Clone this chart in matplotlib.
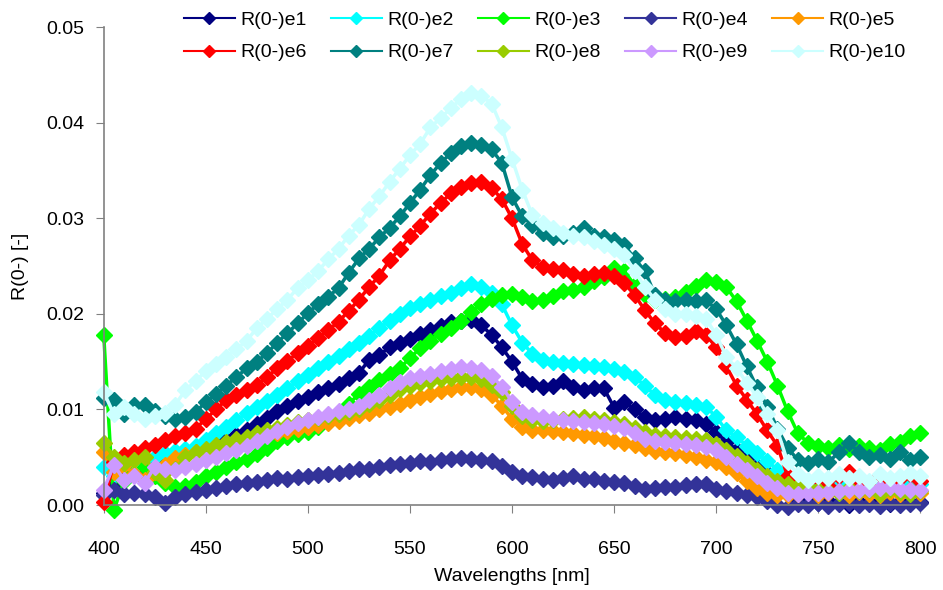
import numpy as np
import matplotlib
matplotlib.use("Agg")
import matplotlib.pyplot as plt
from matplotlib.lines import Line2D

plt.rcParams['font.family'] = ['Liberation Sans', 'DejaVu Sans']
plt.rcParams['font.size'] = 14

wavelengths = np.arange(400, 801, 5)

e1 = [0.0013, 0.0020, 0.0028, 0.0035, 0.0038, 0.0042, 0.0046, 0.0050, 0.0053, 0.0058,
      0.0063, 0.0065, 0.0068, 0.0073, 0.0078, 0.0085, 0.0091, 0.0098, 0.0104, 0.0109,
      0.0113, 0.0118, 0.0122, 0.0127, 0.0133, 0.0138, 0.0152, 0.0157, 0.0165, 0.0170,
      0.0174, 0.0179, 0.0183, 0.0187, 0.0191, 0.0193, 0.0194, 0.0188, 0.0178, 0.0165,
      0.0150, 0.0132, 0.0127, 0.0123, 0.0125, 0.0130, 0.0124, 0.0120, 0.0122, 0.0122,
      0.0102, 0.0108, 0.0100, 0.0092, 0.0089, 0.0090, 0.0092, 0.0090, 0.0089, 0.0085,
      0.0076, 0.0066, 0.0058, 0.0049, 0.0041, 0.0033, 0.0028, 0.0012, 0.0005, 0.0003,
      0.0002, 0.0004, 0.0002, 0.0000, 0.0003, 0.0002, 0.0004, 0.0001, 0.0003, 0.0002,
      0.0003]
e2 = [0.0040, 0.0030, 0.0045, 0.0040, 0.0048, 0.0050, 0.0054, 0.0057, 0.0059, 0.0062,
      0.0068, 0.0075, 0.0082, 0.0089, 0.0096, 0.0103, 0.0109, 0.0115, 0.0122, 0.0130,
      0.0136, 0.0143, 0.0150, 0.0156, 0.0163, 0.0170, 0.0177, 0.0185, 0.0193, 0.0200,
      0.0206, 0.0210, 0.0215, 0.0219, 0.0222, 0.0227, 0.0231, 0.0228, 0.0222, 0.0210,
      0.0188, 0.0170, 0.0158, 0.0152, 0.0150, 0.0149, 0.0148, 0.0146, 0.0145, 0.0144,
      0.0142, 0.0139, 0.0134, 0.0125, 0.0115, 0.0110, 0.0108, 0.0107, 0.0105, 0.0103,
      0.0092, 0.0078, 0.0071, 0.0062, 0.0054, 0.0046, 0.0037, 0.0028, 0.0021, 0.0020,
      0.0022, 0.0018, 0.0024, 0.0020, 0.0026, 0.0018, 0.0025, 0.0020, 0.0024, 0.0027,
      0.0022]
e3 = [0.0178, -0.0005, 0.0025, 0.0050, 0.0040, 0.0030, 0.0023, 0.0019, 0.0020, 0.0024,
      0.0030, 0.0035, 0.0040, 0.0045, 0.0048, 0.0053, 0.0060, 0.0067, 0.0071, 0.0074,
      0.0076, 0.0082, 0.0088, 0.0095, 0.0106, 0.0116, 0.0123, 0.0131, 0.0137, 0.0143,
      0.0154, 0.0164, 0.0172, 0.0179, 0.0185, 0.0193, 0.0202, 0.0210, 0.0216, 0.0220,
      0.0221, 0.0218, 0.0213, 0.0215, 0.0219, 0.0224, 0.0225, 0.0228, 0.0234, 0.0239,
      0.0248, 0.0245, 0.0230, 0.0220, 0.0215, 0.0216, 0.0218, 0.0223, 0.0229, 0.0235,
      0.0233, 0.0228, 0.0213, 0.0193, 0.0172, 0.0150, 0.0125, 0.0098, 0.0075, 0.0065,
      0.0062, 0.0060, 0.0063, 0.0059, 0.0062, 0.0060, 0.0058, 0.0064, 0.0066, 0.0072,
      0.0075]
e4 = [0.0010, 0.0016, 0.0012, 0.0013, 0.0012, 0.0008, 0.0002, 0.0008, 0.0012, 0.0014,
      0.0016, 0.0018, 0.0020, 0.0022, 0.0023, 0.0024, 0.0026, 0.0028, 0.0027, 0.0029,
      0.0030, 0.0031, 0.0032, 0.0034, 0.0036, 0.0038, 0.0038, 0.0040, 0.0042, 0.0043,
      0.0044, 0.0046, 0.0045, 0.0047, 0.0048, 0.0049, 0.0048, 0.0047, 0.0046, 0.0041,
      0.0035, 0.0030, 0.0029, 0.0027, 0.0026, 0.0028, 0.0030, 0.0027, 0.0027, 0.0025,
      0.0024, 0.0023, 0.0020, 0.0017, 0.0018, 0.0019, 0.0019, 0.0021, 0.0022, 0.0022,
      0.0017, 0.0015, 0.0013, 0.0011, 0.0008, 0.0004, 0.0000, -0.0002, 0.0001, 0.0000,
      0.0002, -0.0001, 0.0001, 0.0002, 0.0000, 0.0001, -0.0001, 0.0002, 0.0000, 0.0001,
      0.0002]
e5 = [0.0055, 0.0035, 0.0042, 0.0032, 0.0026, 0.0035, 0.0042, 0.0049, 0.0052, 0.0055,
      0.0058, 0.0061, 0.0064, 0.0067, 0.0069, 0.0071, 0.0073, 0.0075, 0.0077, 0.0080,
      0.0082, 0.0084, 0.0086, 0.0088, 0.0091, 0.0094, 0.0096, 0.0100, 0.0103, 0.0106,
      0.0110, 0.0113, 0.0116, 0.0119, 0.0121, 0.0123, 0.0123, 0.0121, 0.0115, 0.0104,
      0.0090, 0.0082, 0.0079, 0.0078, 0.0077, 0.0076, 0.0075, 0.0073, 0.0072, 0.0070,
      0.0067, 0.0065, 0.0063, 0.0060, 0.0057, 0.0055, 0.0054, 0.0052, 0.0050, 0.0047,
      0.0045, 0.0040, 0.0033, 0.0025, 0.0018, 0.0013, 0.0011, 0.0010, 0.0012, 0.0014,
      0.0010, 0.0013, 0.0015, 0.0011, 0.0014, 0.0012, 0.0010, 0.0014, 0.0012, 0.0016,
      0.0013]
e6 = [0.0003, 0.0045, 0.0052, 0.0055, 0.0060, 0.0063, 0.0068, 0.0072, 0.0075, 0.0080,
      0.0090, 0.0100, 0.0110, 0.0115, 0.0120, 0.0126, 0.0134, 0.0143, 0.0151, 0.0159,
      0.0166, 0.0175, 0.0183, 0.0192, 0.0203, 0.0215, 0.0228, 0.0240, 0.0256, 0.0268,
      0.0281, 0.0292, 0.0305, 0.0316, 0.0326, 0.0333, 0.0337, 0.0338, 0.0332, 0.0320,
      0.0300, 0.0273, 0.0256, 0.0249, 0.0247, 0.0246, 0.0242, 0.0240, 0.0242, 0.0243,
      0.0240, 0.0232, 0.0220, 0.0204, 0.0190, 0.0180, 0.0176, 0.0177, 0.0182, 0.0178,
      0.0165, 0.0145, 0.0125, 0.0110, 0.0095, 0.0078, 0.0062, 0.0030, 0.0022, 0.0025,
      0.0028, 0.0020, 0.0030, 0.0035, 0.0025, 0.0020, 0.0030, 0.0022, 0.0028, 0.0032,
      0.0025]
e7 = [0.0112, 0.0110, 0.0095, 0.0105, 0.0105, 0.0098, 0.0093, 0.0090, 0.0092, 0.0097,
      0.0108, 0.0116, 0.0125, 0.0134, 0.0143, 0.0150, 0.0159, 0.0170, 0.0180, 0.0190,
      0.0201, 0.0210, 0.0218, 0.0227, 0.0243, 0.0258, 0.0268, 0.0280, 0.0290, 0.0302,
      0.0316, 0.0330, 0.0345, 0.0358, 0.0368, 0.0376, 0.0379, 0.0377, 0.0372, 0.0358,
      0.0322, 0.0302, 0.0293, 0.0285, 0.0280, 0.0282, 0.0285, 0.0290, 0.0282, 0.0280,
      0.0277, 0.0272, 0.0258, 0.0245, 0.0220, 0.0214, 0.0213, 0.0215, 0.0213, 0.0214,
      0.0205, 0.0188, 0.0168, 0.0145, 0.0123, 0.0103, 0.0080, 0.0060, 0.0047, 0.0044,
      0.0048, 0.0045, 0.0055, 0.0065, 0.0055, 0.0050, 0.0052, 0.0048, 0.0055, 0.0047,
      0.0050]
e8 = [0.0065, 0.0050, 0.0044, 0.0047, 0.0050, 0.0035, 0.0026, 0.0038, 0.0050, 0.0055,
      0.0059, 0.0063, 0.0066, 0.0069, 0.0071, 0.0075, 0.0078, 0.0081, 0.0084, 0.0087,
      0.0089, 0.0091, 0.0093, 0.0095, 0.0097, 0.0101, 0.0106, 0.0110, 0.0115, 0.0121,
      0.0125, 0.0128, 0.0130, 0.0132, 0.0133, 0.0134, 0.0134, 0.0132, 0.0126, 0.0118,
      0.0104, 0.0093, 0.0089, 0.0088, 0.0089, 0.0090, 0.0091, 0.0092, 0.0090, 0.0089,
      0.0087, 0.0085, 0.0081, 0.0076, 0.0073, 0.0072, 0.0071, 0.0070, 0.0069, 0.0068,
      0.0064, 0.0058, 0.0051, 0.0044, 0.0037, 0.0030, 0.0025, 0.0022, 0.0020, 0.0019,
      0.0016, 0.0015, 0.0013, 0.0018, 0.0015, 0.0016, 0.0012, 0.0017, 0.0014, 0.0012,
      0.0015]
e9 = [0.0016, 0.0042, 0.0026, 0.0030, 0.0023, 0.0040, 0.0038, 0.0037, 0.0040, 0.0043,
      0.0047, 0.0050, 0.0054, 0.0058, 0.0062, 0.0067, 0.0072, 0.0077, 0.0082, 0.0086,
      0.0089, 0.0092, 0.0095, 0.0098, 0.0101, 0.0104, 0.0110, 0.0115, 0.0122, 0.0129,
      0.0133, 0.0135, 0.0137, 0.0140, 0.0142, 0.0144, 0.0143, 0.0141, 0.0135, 0.0124,
      0.0108, 0.0097, 0.0094, 0.0092, 0.0090, 0.0089, 0.0088, 0.0087, 0.0086, 0.0085,
      0.0083, 0.0081, 0.0075, 0.0069, 0.0067, 0.0066, 0.0065, 0.0064, 0.0063, 0.0061,
      0.0058, 0.0050, 0.0043, 0.0037, 0.0030, 0.0023, 0.0018, 0.0013, 0.0012, 0.0013,
      0.0013, 0.0014, 0.0015, 0.0016, 0.0016, 0.0017, 0.0018, 0.0019, 0.0017, 0.0016,
      0.0016]
e10 = [0.0118, 0.0095, 0.0103, 0.0095, 0.0090, 0.0093, 0.0096, 0.0105, 0.0120, 0.0130,
       0.0140, 0.0148, 0.0155, 0.0163, 0.0172, 0.0185, 0.0195, 0.0205, 0.0215, 0.0227,
       0.0235, 0.0245, 0.0257, 0.0268, 0.0282, 0.0293, 0.0310, 0.0323, 0.0338, 0.0352,
       0.0366, 0.0378, 0.0395, 0.0405, 0.0415, 0.0425, 0.0431, 0.0428, 0.0420, 0.0395,
       0.0362, 0.0330, 0.0303, 0.0295, 0.0290, 0.0285, 0.0282, 0.0280, 0.0276, 0.0272,
       0.0268, 0.0262, 0.0245, 0.0228, 0.0215, 0.0205, 0.0200, 0.0200, 0.0198, 0.0195,
       0.0178, 0.0155, 0.0143, 0.0128, 0.0113, 0.0095, 0.0078, 0.0045, 0.0032, 0.0026,
       0.0030, 0.0028, 0.0032, 0.0028, 0.0030, 0.0025, 0.0032, 0.0028, 0.0030, 0.0033,
       0.0030]

series = [e1, e2, e3, e4, e5, e6, e7, e8, e9, e10]
labels = ["R(0-)e%d" % i for i in range(1, 11)]
colors = ["#000080", "#00FFFF", "#00FF00", "#333399", "#FF9900",
          "#FF0000", "#008080", "#99CC00", "#CC99FF", "#CCFFFF"]

fig = plt.figure(figsize=(9.43, 5.9), dpi=100)
ax = fig.add_axes([0.110, 0.144, 0.866, 0.810])

for vals, lab, col in zip(series, labels, colors):
    ax.plot(wavelengths, vals, color=col, lw=2.5, marker="D", ms=7.8,
            mec=col, mfc=col, label=lab, clip_on=False)

ax.set_xlim(400, 800)
ax.set_ylim(0, 0.05)
ax.set_xticks(np.arange(400, 801, 50))
ax.set_yticks(np.arange(0, 0.051, 0.01))
ax.yaxis.set_major_formatter(matplotlib.ticker.FormatStrFormatter("%.2f"))
for s in ["top", "right"]:
    ax.spines[s].set_visible(False)
for s in ["left", "bottom"]:
    ax.spines[s].set_color("#808080")
    ax.spines[s].set_linewidth(1.2)
ax.tick_params(axis="x", direction="out", length=6, color="#808080", pad=20)
ax.tick_params(axis="y", direction="out", length=6, color="#808080", pad=8)

ax.set_xlabel("Wavelengths [nm]", labelpad=7)
ax.set_ylabel("R(0-) [-]", labelpad=12)

# legend with smaller markers than the plotted bands
handles = [Line2D([], [], color=c, lw=1.5, marker="D", ms=6, mec=c, mfc=c) for c in colors]
# rows e1..e5 / e6..e10 (matplotlib fills column by column)
order = [0, 5, 1, 6, 2, 7, 3, 8, 4, 9]
fig.legend([handles[i] for i in order], [labels[i] for i in order],
           ncol=5, loc="upper center", bbox_to_anchor=(0.578, 1.0),
           frameon=False, handlelength=2.6, handletextpad=0.3,
           columnspacing=1.25, labelspacing=0.75, borderpad=0.1)

fig.savefig("out.png", dpi=100)
